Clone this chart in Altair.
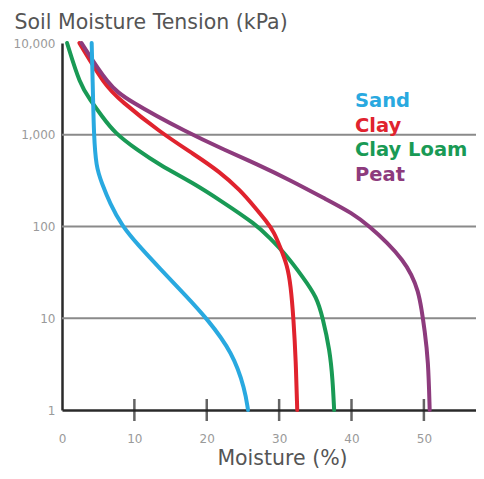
import altair as alt
import pandas as pd

# ---- data ----
series_names = ["Sand", "Clay", "Clay Loam", "Peat"]
series_colors = ["#29A9E0", "#E0232E", "#199A55", "#8D3B7D"]

sand_tension = [10000, 2390, 1045, 445, 298, 180, 101, 63, 35, 18, 10, 4.2, 1.65, 1]
sand_moisture = [4.1, 4.3, 4.4, 4.7, 5.5, 6.6, 8.3, 10.5, 13.5, 17.0, 20.0, 23.6, 25.3, 25.7]

clay_tension = [10000, 3480, 2390, 1072, 601, 393, 250, 160, 115, 87, 58, 38, 23, 9.6, 3.5, 1]
clay_moisture = [2.4, 5.9, 8.0, 13.5, 18.4, 21.8, 24.6, 26.7, 28.2, 29.3, 30.2, 31.1, 31.6, 32.0, 32.3, 32.5]

loam_tension = [10000, 3480, 2390, 1600, 1040, 682, 468, 298, 194, 104, 75, 51, 28, 17, 10.3, 4.5, 2.1, 1]
loam_moisture = [0.7, 2.5, 3.9, 5.5, 7.3, 10.4, 13.5, 18.1, 21.8, 26.9, 28.7, 30.8, 33.3, 35.2, 36.0, 37.0, 37.4, 37.6]

peat_tension = [10000, 3480, 2390, 1045, 682, 480, 321, 194, 140, 100, 66, 43, 30, 20, 12.3, 7.4, 3.5, 1]
peat_moisture = [2.7, 6.4, 9.0, 17.4, 22.5, 26.9, 31.5, 36.7, 40.1, 42.5, 45.0, 47.1, 48.3, 49.2, 49.7, 50.1, 50.6, 50.8]

y_tick_values = [1, 10, 100, 1000, 10000]
grid_values = [10, 100, 1000]
x_label_values = [0, 10, 20, 30, 40, 50]
x_tick_marks = [10, 20, 30, 40, 50]

series_data = {
    "Sand": (sand_tension, sand_moisture),
    "Clay": (clay_tension, clay_moisture),
    "Clay Loam": (loam_tension, loam_moisture),
    "Peat": (peat_tension, peat_moisture),
}

W, H = 414, 367
FONT = "DejaVu Sans"

x_scale = alt.Scale(domain=[0, 57.2], nice=False, zero=False)
y_scale = alt.Scale(type="log", domain=[1, 10000], nice=False)

x_axis = alt.Axis(
    values=x_label_values, format="d", labelFont=FONT, labelFontSize=12,
    labelColor="#9a9a9a", labelPadding=23, ticks=False, domainColor="#2a2a2a",
    domainWidth=2.5, grid=False, labelFlush=False, labelOverlap=False,
    title="Moisture (%)", titleFont=FONT, titleFontSize=20.5, titleFontWeight="normal",
    titleColor="#555555", titleX=220, titleY=54, titleBaseline="alphabetic",
    titleAlign="center",
)
y_axis = alt.Axis(
    values=y_tick_values, format=",", labelFont=FONT, labelFontSize=12,
    labelColor="#9a9a9a", labelPadding=7, ticks=False, domainColor="#2a2a2a",
    domainWidth=2.5, grid=False, labelFlush=False, labelOverlap=False,
    title="Soil Moisture Tension (kPa)", titleFont=FONT, titleFontSize=20.5,
    titleFontWeight="normal", titleColor="#555555", titleAngle=0,
    titleX=-48, titleY=-21, titleAlign="left", titleBaseline="middle",
)

grid = alt.Chart(pd.DataFrame({"t": grid_values})).mark_rule(
    color="#8a8a8a", strokeWidth=2
).encode(y=alt.Y("t:Q", scale=y_scale, axis=y_axis))

layers = [grid]
draw_order = ["Clay Loam", "Clay", "Peat", "Sand"]
for name in draw_order:
    t, m = series_data[name]
    col = series_colors[series_names.index(name)]
    d = pd.DataFrame({"tension": t, "moisture": m})
    layers.append(
        alt.Chart(d).mark_line(
            strokeWidth=4, interpolate="basis", color=col, strokeCap="round"
        ).encode(
            x=alt.X("moisture:Q", scale=x_scale, axis=x_axis),
            y=alt.Y("tension:Q", scale=y_scale, axis=y_axis),
            order=alt.Order("tension:Q"),
        )
    )

ticks = alt.Chart(pd.DataFrame({"tick": x_tick_marks})).mark_tick(
    orient="vertical", size=22, thickness=2.5, color="#222222"
).encode(x=alt.X("tick:Q", scale=x_scale, axis=x_axis), y=alt.value(H))
layers.append(ticks)

for i, name in enumerate(series_names):
    layers.append(
        alt.Chart(pd.DataFrame({"label": [name]})).mark_text(
            font=FONT, fontSize=19.5, fontWeight="bold", align="left",
            baseline="middle", color=series_colors[i],
        ).encode(text="label:N", x=alt.value(293), y=alt.value(58 + i * 24.5))
    )

chart = alt.layer(*layers).properties(
    width=W, height=H,
    autosize=alt.AutoSizeParams(type="none"),
    padding={"left": 54, "top": 35, "right": 0, "bottom": 61},
    background="white",
).configure_view(stroke=None)

chart.save("out.html", embed_options={"renderer": "svg", "actions": False})
